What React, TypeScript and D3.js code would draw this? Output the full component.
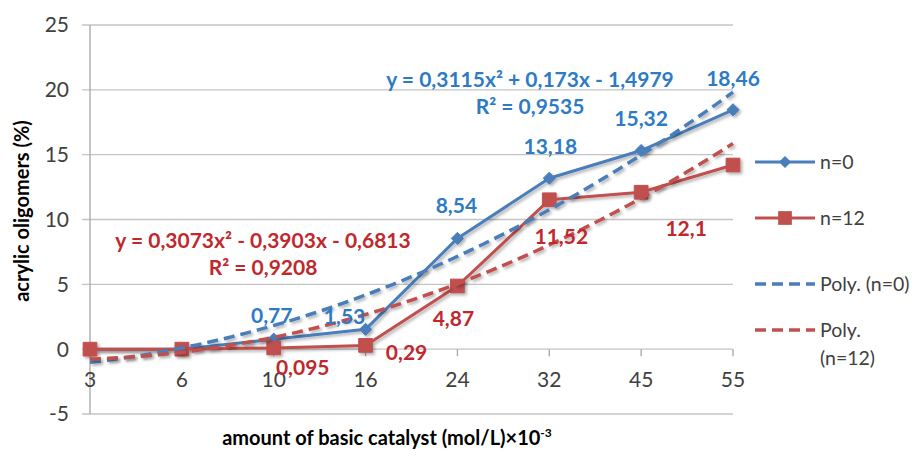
import * as React from 'react';
import * as d3 from 'd3';

// chart data
const categories = ['3', '6', '10', '16', '24', '32', '45', '55'];
const seriesN0 = [0, 0, 0.77, 1.53, 8.54, 13.18, 15.32, 18.46];
const seriesN12 = [0, 0, 0.095, 0.29, 4.87, 11.52, 12.1, 14.2];
const labelsN0 = ['', '', '0,77', '1,53', '8,54', '13,18', '15,32', '18,46'];
const labelsN12 = ['', '', '0,095', '0,29', '4,87', '11,52', '12,1', ''];
// polynomial trendline coefficients [a, b, c] for a*x^2 + b*x + c (x = category index 1..8)
const trendN0 = [0.3115, 0.173, -1.4979];
const trendN12 = [0.3073, -0.3903, -0.6813];
const eqN0 = ['y = 0,3115x² + 0,173x - 1,4979', 'R² = 0,9535'];
const eqN12 = ['y = 0,3073x² - 0,3903x - 0,6813', 'R² = 0,9208'];
const yTicks = [-5, 0, 5, 10, 15, 20, 25];
const legendNames = ['n=0', 'n=12', 'Poly. (n=0)', 'Poly. (n=12)'];

// label offsets (manual placement like the original)
const offN0 = [[0, 0], [0, 0], [-2, -24], [-21, -13], [-1, -33], [1, -32], [0, -32], [0, -31]];
const offN12 = [[0, 0], [0, 0], [29, 20], [41, 7], [-4, 33], [12, 37], [45, 36], [0, 0]];

const BLUE = '#4a7ebb';
const RED = '#c0504d';
const BLUE_TXT = '#2e7bc4';
const RED_TXT = '#c0282d';
const FONT = 'Lato, "Liberation Sans", sans-serif';

const Chart: React.FC = () => {
  const svgRef = React.useRef(null);

  React.useEffect(() => {
    const svg = d3.select(svgRef.current);
    svg.selectAll('*').remove();

    const x = d3.scalePoint<string>().domain(categories).range([90, 733]);
    const xi = d3.scaleLinear().domain([1, categories.length]).range([90, 733]);
    const y = d3.scaleLinear().domain([-5, 25]).range([414, 25]);

    const defs = svg.append('defs');
    const f = defs.append('filter').attr('id', 'sh').attr('x', '-10%').attr('y', '-10%')
      .attr('width', '130%').attr('height', '130%');
    f.append('feDropShadow').attr('dx', 2).attr('dy', 2).attr('stdDeviation', 1.5)
      .attr('flood-color', '#000').attr('flood-opacity', 0.3);

    // gridlines
    svg.append('g').selectAll('line').data(yTicks).enter().append('line')
      .attr('x1', 82).attr('x2', 733)
      .attr('y1', d => y(d)).attr('y2', d => y(d))
      .attr('stroke', '#c4c4c4').attr('stroke-width', 1.3);

    // vertical axis line
    svg.append('line').attr('x1', 90).attr('x2', 90).attr('y1', y(25)).attr('y2', y(-5))
      .attr('stroke', '#a6a6a6').attr('stroke-width', 1.3);

    // category axis at 0 with tick marks
    svg.append('g').selectAll('line').data(categories).enter().append('line')
      .attr('x1', d => x(d)!).attr('x2', d => x(d)!)
      .attr('y1', y(0)).attr('y2', y(0) + 7)
      .attr('stroke', '#a6a6a6').attr('stroke-width', 1.3);

    // tick labels
    svg.append('g').selectAll('text').data(yTicks).enter().append('text')
      .attr('x', 69).attr('y', d => y(d)).attr('dy', '0.35em')
      .attr('text-anchor', 'end').attr('font-family', FONT).attr('font-size', 21)
      .attr('fill', '#404040').text(d => d);
    svg.append('g').selectAll('text').data(categories).enter().append('text')
      .attr('x', d => x(d)!).attr('y', 380).attr('dy', '0.35em')
      .attr('text-anchor', 'middle').attr('font-family', FONT).attr('font-size', 21)
      .attr('fill', '#404040').text(d => d);

    // axis titles
    svg.append('text')
      .attr('transform', `translate(22, 211) rotate(-90)`)
      .attr('text-anchor', 'middle').attr('dy', '0.35em')
      .attr('font-family', FONT).attr('font-size', 20).attr('font-weight', 'bold')
      .attr('fill', '#000').text('acrylic oligomers (%)');
    const xt = svg.append('text').attr('x', 387).attr('y', 438).attr('dy', '0.35em')
      .attr('text-anchor', 'middle').attr('font-family', FONT).attr('font-size', 20)
      .attr('font-weight', 'bold').attr('fill', '#000');
    xt.append('tspan').text('amount of basic catalyst (mol/L)×10');
    xt.append('tspan').attr('font-size', 12).attr('dy', '-0.7em').text('-3');

    const line = d3.line<number>().x((d, i) => x(categories[i])!).y(d => y(d));

    const drawSeries = (vals: number[], color: string, marker: 'diamond' | 'square') => {
      const g = svg.append('g').attr('filter', 'url(#sh)');
      g.append('path').datum(vals).attr('d', line).attr('fill', 'none')
        .attr('stroke', color).attr('stroke-width', 3).attr('stroke-linejoin', 'round');
      const sym = d3.symbol().type(marker === 'diamond' ? d3.symbolDiamond2 : d3.symbolSquare2)
        .size(marker === 'diamond' ? 95 : 240);
      g.selectAll('path.m').data(vals).enter().append('path').attr('class', 'm')
        .attr('d', sym as any)
        .attr('transform', (d, i) => `translate(${x(categories[i])},${y(d)})`)
        .attr('fill', color).attr('stroke', color).attr('stroke-width', 1);
    };
    drawSeries(seriesN0, BLUE, 'diamond');
    drawSeries(seriesN12, RED, 'square');

    const drawTrend = (c: number[], color: string) => {
      const pts = d3.range(1, categories.length + 0.001, 0.05);
      const tl = d3.line<number>().x(t => xi(t)).y(t => y(c[0] * t * t + c[1] * t + c[2]));
      svg.append('path').datum(pts).attr('d', tl).attr('fill', 'none')
        .attr('stroke', color).attr('stroke-width', 3.5).attr('stroke-dasharray', '11,6')
        .attr('filter', 'url(#sh)');
    };
    drawTrend(trendN0, BLUE);
    drawTrend(trendN12, RED);

    // data labels
    const drawLabels = (vals: number[], labs: string[], offs: number[][], color: string) => {
      svg.append('g').selectAll('text').data(vals).enter().append('text')
        .attr('x', (d, i) => x(categories[i])! + offs[i][0])
        .attr('y', (d, i) => y(d) + offs[i][1]).attr('dy', '0.35em')
        .attr('text-anchor', 'middle').attr('font-family', FONT).attr('font-size', 21)
        .attr('font-weight', 'bold').attr('fill', color)
        .text((d, i) => labs[i]);
    };
    drawLabels(seriesN0, labelsN0, offN0, BLUE_TXT);
    drawLabels(seriesN12, labelsN12, offN12, RED_TXT);

    // trendline equations
    const drawEq = (lines: string[], cx: number, cy: number, color: string) => {
      svg.append('g').selectAll('text').data(lines).enter().append('text')
        .attr('x', cx).attr('y', (d, i) => cy + i * 27).attr('dy', '0.35em')
        .attr('text-anchor', 'middle').attr('font-family', FONT).attr('font-size', 21)
        .attr('font-weight', 'bold').attr('fill', color).text(d => d);
    };
    drawEq(eqN0, 530, 80, BLUE_TXT);
    drawEq(eqN12, 263, 241, RED_TXT);

    // legend
    const legY = [162, 218, 284, 330];
    const leg = svg.append('g');
    legendNames.forEach((name, i) => {
      const color = i % 2 === 0 ? BLUE : RED;
      const row = leg.append('g').attr('transform', `translate(0, ${legY[i]})`);
      row.append('line').attr('x1', 755).attr('x2', 815).attr('y1', 0).attr('y2', 0)
        .attr('stroke', color).attr('stroke-width', i < 2 ? 3 : 3.5)
        .attr('stroke-dasharray', i < 2 ? null : '11,6');
      if (i === 0) {
        row.append('path').attr('d', d3.symbol().type(d3.symbolDiamond2).size(95)() as string)
          .attr('transform', 'translate(785,0)').attr('fill', color);
      } else if (i === 1) {
        row.append('path').attr('d', d3.symbol().type(d3.symbolSquare2).size(240)() as string)
          .attr('transform', 'translate(785,0)').attr('fill', color);
      }
      const parts = name === 'Poly. (n=12)' ? ['Poly.', '(n=12)'] : [name];
      parts.forEach((p, j) => {
        row.append('text').attr('x', 820).attr('y', j * 28).attr('dy', '0.35em')
          .attr('font-family', FONT).attr('font-size', 19.5).attr('fill', '#404040').text(p);
      });
    });
  }, []);

  return <svg ref={svgRef} width={921} height={457} style={{ display: 'block' }}></svg>;
};

export default function App() {
  return (
    <div style={{ margin: -8, background: '#fff', width: 921, height: 457 }}>
      <Chart />
    </div>
  );
}
